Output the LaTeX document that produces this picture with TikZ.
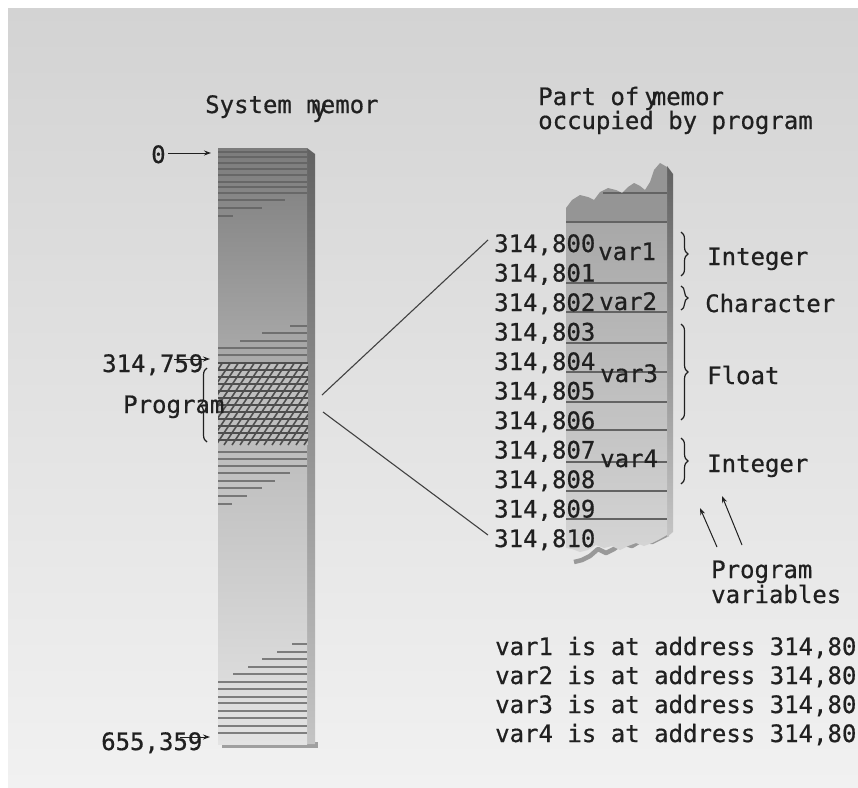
\documentclass[tikz,border=0pt]{standalone}
\usepackage{fontspec}
\newfontfamily\mono[FakeBold=0.6]{DejaVu Sans Mono}
\usetikzlibrary{arrows.meta,decorations.pathreplacing}
\definecolor{ink}{HTML}{202020}
\definecolor{bgtop}{HTML}{D3D3D3}
\definecolor{bgbot}{HTML}{F1F1F1}
\definecolor{colA}{HTML}{7C7C7C}
\definecolor{colB}{HTML}{BDBDBD}
\definecolor{colC}{HTML}{E3E3E3}
\definecolor{sideA}{HTML}{626262}
\definecolor{sideB}{HTML}{C4C4C4}
\definecolor{stripe}{HTML}{5E5E5E}
\definecolor{hatchbg}{HTML}{BEBEBE}
\definecolor{hatchln}{HTML}{4E4E4E}
\definecolor{rcolA}{HTML}{A8A8A8}
\definecolor{rcolB}{HTML}{D6D6D6}
\definecolor{rtop}{HTML}{959595}
\begin{document}
\begin{tikzpicture}[x=1pt,y=-1pt,
  txt/.style={font=\mono\fontsize{24}{28}\selectfont, anchor=base west, inner sep=0pt, text=ink},
  arr/.style={-{Stealth[length=7pt,width=5pt]}, line width=1pt, draw=ink},
  conn/.style={line width=1.1pt, draw=ink!85},
  brc/.style={decorate, decoration={brace, amplitude=7pt}, line width=1.2pt, draw=ink},
  stripe/.style={line width=1.6pt, draw=stripe, opacity=0.75},
  rline/.style={line width=1.2pt, draw=ink!70}]
\useasboundingbox (0,0) rectangle (858,787);
\fill[white] (0,0) rectangle (858,787);
\shade[top color=bgtop, bottom color=bgbot] (8,8) rectangle (858,787);

% ---------- left column ----------
\fill[gray!75] (222,742) rectangle (318,748);
\shade[top color=sideA, bottom color=sideB] (307,148) -- (315,154) -- (315,744) -- (307,744) -- cycle;
\shade[top color=colA, bottom color=colC, middle color=colB] (218,148) rectangle (307,744);
\foreach \y in {152,157,163,169,175,182,187,193} \draw[stripe] (218,\y) -- (307,\y);
\foreach \y/\e in {200/285,208/262,216/233} \draw[stripe] (218,\y) -- (\e,\y);
\foreach \y/\s in {326/290,333/262,341/240} \draw[stripe] (\s,\y) -- (307,\y);
\foreach \y in {348,355,452,459,466} \draw[stripe] (218,\y) -- (307,\y);
\foreach \y/\e in {473/290,481/275,488/262,496/247,504/232} \draw[stripe] (218,\y) -- (\e,\y);
\foreach \y/\s in {644/292,652/277,659/262,667/248,674/233} \draw[stripe] (\s,\y) -- (307,\y);
\foreach \y in {682,689,697,703,711,718,726,733} \draw[stripe] (218,\y) -- (307,\y);
% hatched program area
\begin{scope}
  \clip (218,362) rectangle (308,445);
  \fill[hatchbg] (218,362) rectangle (308,445);
  \foreach \y in {363,370,...,445} \draw[line width=1.6pt, draw=hatchln] (218,\y) -- (308,\y);
  \foreach \x in {160,168,...,330} \draw[line width=1.6pt, draw=hatchln] (\x,445) -- (\x+55,362);
\end{scope}

% left labels
\node[txt] (zero) at (151,163) {0};
\coordinate (zeroT) at (211,153);
\draw[arr] (168,153) -- (zeroT);
\node[txt] (a759) at (102,372) {314,759};
\coordinate (a759T) at (210,359);
\draw[arr] (174,359) -- (a759T);
\node[txt] (prog) at (123,413) {Program};
\draw[brc] (207,442) -- (207,368);
\node[txt] (a359) at (101,750) {655,359};
\coordinate (a359T) at (210,737);
\draw[arr] (180,737) -- (a359T);

% titles
\node[txt] (sys) at (205,113) {System \rlap{\hspace{6pt}\raisebox{-4pt}{y}}memor};
\node[txt] (part) at (538,105) {Part of\hspace{5pt}y\hspace{-7pt}memor};
\node[txt] (occ) at (538,129) {occupied by program};

% ---------- right column ----------
\draw[line width=4.5pt, draw=gray!80, line join=round] (574,562) -- (582,560) -- (590,556) -- (598,549) -- (606,553) -- (614,549) -- (622,543) -- (632,546) -- (642,540) -- (652,542) -- (660,538) -- (668,534);
\shade[top color=sideA, bottom color=sideB] (667,166) -- (673,174) -- (673,532) -- (667,537) -- cycle;
\begin{scope}
  \clip (566,548) -- (566,208) -- (572,200) -- (580,195) -- (588,197) -- (594,200) -- (600,192) -- (608,188) -- (616,190) -- (622,193) -- (628,187) -- (634,183) -- (640,186) -- (645,190) -- (650,182) -- (654,170) -- (660,163) -- (667,167) -- (667,535) -- (660,539) -- (652,543) -- (644,546) -- (636,543) -- (628,546) -- (620,550) -- (612,546) -- (604,548) -- (596,545) -- (588,550) -- (580,552) -- (572,549) -- cycle;
  \fill[rtop] (560,150) rectangle (670,222);
  \shade[top color=rcolA, bottom color=rcolB] (560,222) rectangle (670,560);
  \draw[rline] (603,193) -- (667,193);
\end{scope}
\foreach \y in {222,283,312,343,372,402,430,462,491,519} \draw[rline] (566,\y) -- (667,\y);

% addresses
\foreach \i/\a in {0/800,1/801,2/802,3/803,4/804,5/805,6/806,7/807,8/808,9/809,10/810}
  \node[txt] (r\a) at (494,252+29.5*\i) {314,\a};
\coordinate (pa) at (322,395);
\coordinate (pb) at (323,412);
\coordinate (ta) at (488,240);
\coordinate (tb) at (488,535);
\draw[conn] (pa) -- (ta);
\draw[conn] (pb) -- (tb);

% variable names
\node[txt] (v1) at (598,260) {var1};
\node[txt] (v2) at (599,310) {var2};
\node[txt] (v3) at (600,382) {var3};
\node[txt] (v4) at (600,467) {var4};

% braces and types
\draw[brc] (681,232) -- (681,276);
\draw[brc] (681,286) -- (681,310);
\draw[brc] (681,324) -- (681,420);
\draw[brc] (681,438) -- (681,484);
\node[txt] (t1) at (707,265) {Integer};
\node[txt] (t2) at (705,312) {Character};
\node[txt] (t3) at (707,384) {Float};
\node[txt] (t4) at (707,472) {Integer};

% program variables
\node[txt] (pv1) at (711,578) {Program};
\node[txt] (pv2) at (711,603) {variables};
\coordinate (pv1s) at (717,547);
\coordinate (pv1e) at (700,508);
\coordinate (pv2s) at (742,545);
\coordinate (pv2e) at (722,496);
\draw[arr] (pv1s) -- (pv1e);
\draw[arr] (pv2s) -- (pv2e);

% bottom text
\node[txt] (b1) at (495,655) {var1 is at address 314,80};
\node[txt] (b2) at (495,684) {var2 is at address 314,80};
\node[txt] (b3) at (495,713) {var3 is at address 314,80};
\node[txt] (b4) at (495,742) {var4 is at address 314,80};
\end{tikzpicture}
\end{document}
